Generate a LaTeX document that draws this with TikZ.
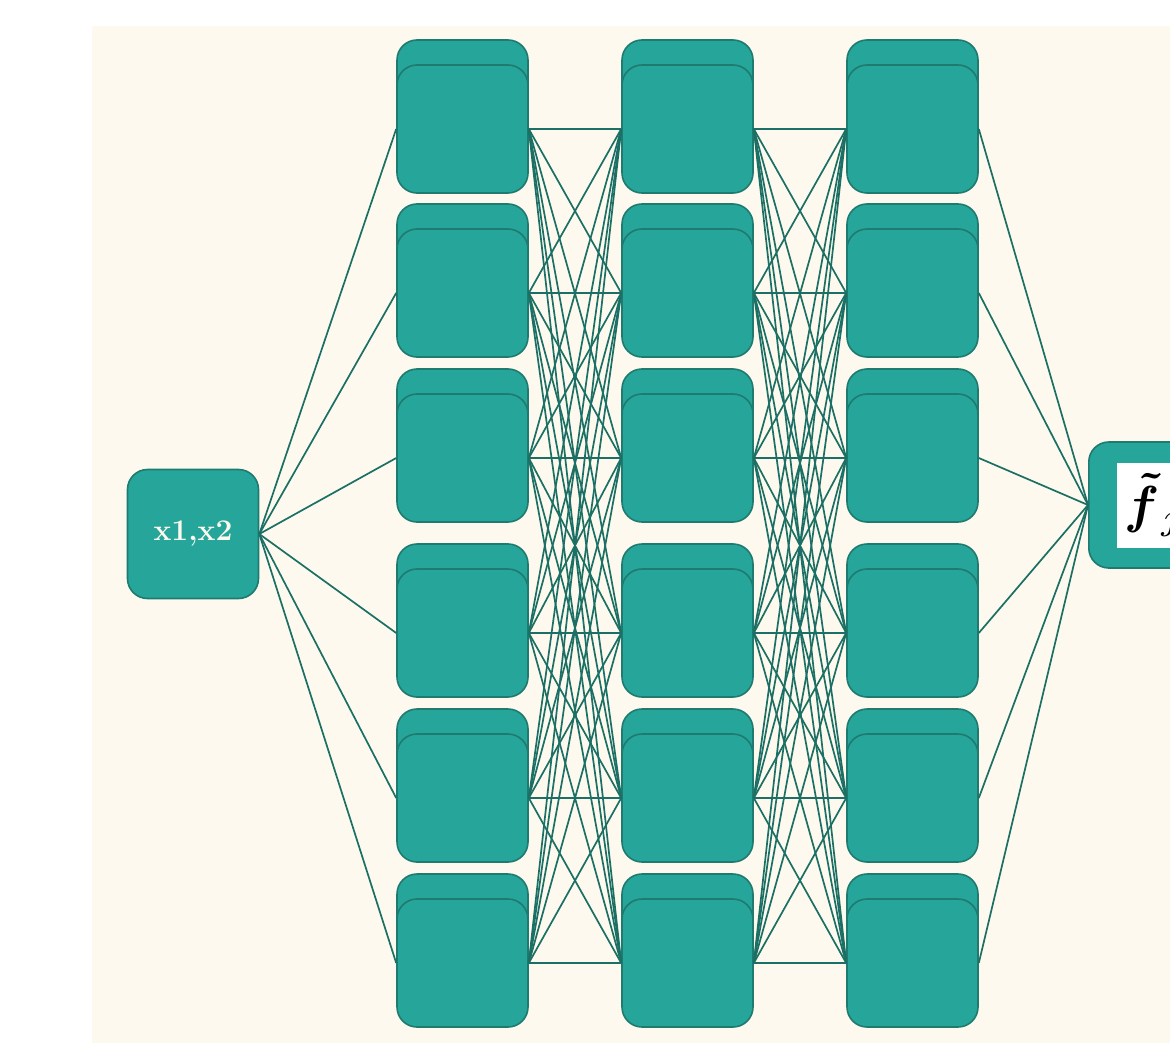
\documentclass[tikz,border=0pt]{standalone}
\usepackage{graphicx}
\usepackage{amsmath,bm}
\definecolor{cream}{HTML}{FDF9EE}
\definecolor{tealfill}{HTML}{26A69A}
\definecolor{tealedge}{HTML}{1F7A70}
\definecolor{tealline}{HTML}{1C6F64}
\begin{document}
\begin{tikzpicture}[x=1pt,y=-1pt,
  unit/.style={rectangle, rounded corners=20pt, fill=tealfill, draw=tealedge,
    line width=1.6pt, minimum width=131pt, minimum height=128pt, inner sep=0pt},
  link/.style={draw=tealline, line width=1.7pt}]
\useasboundingbox (0,0) rectangle (1170,1043);
\clip (0,0) rectangle (1170,1043);
\fill[cream] (92,26) rectangle (1170,1043);

% hidden layers: each unit is a stacked pair of rounded boxes
\foreach \c/\x in {1/462.5,2/687.5,3/912.5} {
  \foreach \r/\y in {1/129,2/293,3/458,4/633,5/798,6/963} {
    \node[unit] (b\c\r) at (\x,\y-25) {};
    \node[unit] (h\c\r) at (\x,\y) {};
  }
}

% input
\node[unit, minimum height=129pt, text=cream,
  font=\fontsize{30}{36}\selectfont\bfseries] (in) at (193,534) {x1,x2};

% output
\node[unit, anchor=west, minimum width=220pt, minimum height=126pt] (out) at (1088,505) {};
\node[rectangle, fill=white, anchor=west, minimum height=85pt, inner xsep=7pt,
  inner ysep=0pt] (outtxt) at (1117,505) {\scalebox{5.2}{$\bm{\tilde{f}}_{\,j}$}};

% connections
\foreach \r in {1,...,6} \draw[link] (in.east) -- (h1\r.west);
\foreach \r in {1,...,6} {
  \foreach \s in {1,...,6} {
    \draw[link] (h1\r.east) -- (h2\s.west);
    \draw[link] (h2\r.east) -- (h3\s.west);
  }
}
\foreach \r in {1,...,6} \draw[link] (h3\r.east) -- (out.west);
\end{tikzpicture}
\end{document}
